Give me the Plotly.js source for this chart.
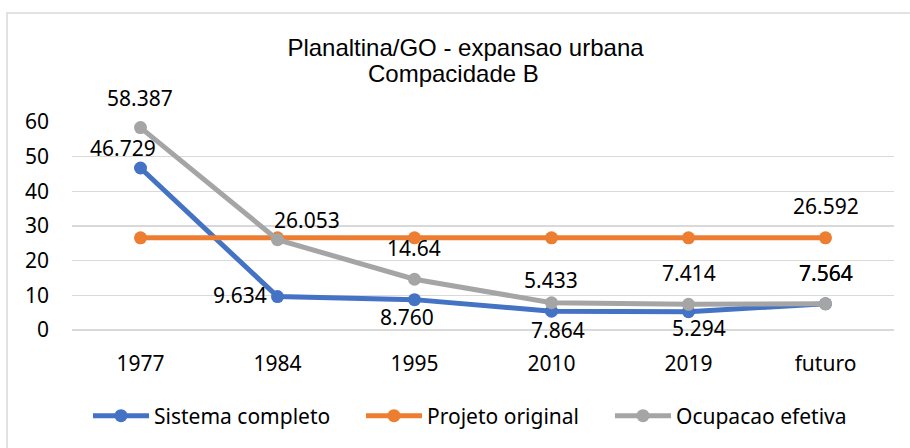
<!DOCTYPE html>
<html><head><meta charset="utf-8">
<script src="https://cdn.plot.ly/plotly-3.0.1.min.js"></script>
<style>html,body{margin:0;padding:0;background:#fff}#chart{width:910px;height:448px}</style>
</head><body><div id="chart"></div>
<script>
// ---- data ----
const categories = ["1977", "1984", "1995", "2010", "2019", "futuro"];
const sistemaCompleto = [46.729, 9.634, 8.760, 5.433, 5.294, 7.564];
const projetoOriginal = [26.592, 26.592, 26.592, 26.592, 26.592, 26.592];
const ocupacaoEfetiva = [58.387, 26.053, 14.64, 7.864, 7.414, 7.564];
const sistemaLabels = ["46.729", "9.634", "8.760", "7.864", "5.294", "7.564"];
const projetoLabels = ["", "", "", "", "", "26.592"];
const ocupacaoLabels = ["58.387", "26.053", "14.64", "5.433", "7.414", "7.564"];
const yTicks = [0, 10, 20, 30, 40, 50, 60];
const seriesNames = ["Sistema completo", "Projeto original", "Ocupacao efetiva"];
const titleLine1 = "Planaltina/GO - expansao urbana";
const titleLine2 = "Compacidade B";

// ---- styling ----
const colors = ["#4472C4", "#ED7D31", "#A5A5A5"];
const labelShift = {
  sistema: [[-18, 20], [-38, 2], [-8, -17], [6, -19], [10, -16], [0, 31]],
  projeto: [[0, 0], [0, 0], [0, 0], [0, 0], [0, 0], [0, 32]],
  ocupacao: [[-1, 30], [29, 20], [-1, 31], [-1, 23], [0, 31], [0, 31]]
};
const font = "'Noto Sans', 'Open Sans', sans-serif";
const titleFont = "'Liberation Sans', Arial, sans-serif";
const plotL = 72, plotW = 822, plotB = 330, plotH = 208;
const px2x = p => (p - plotL) / plotW;
const py2y = p => (plotB - p) / plotH;

function trace(name, y, color, legendId) {
  return {
    type: "scatter", mode: "lines+markers", name: name,
    x: categories, y: y, cliponaxis: false,
    line: {color: color, width: 5},
    marker: {color: color, size: 13},
    legend: legendId, hoverinfo: "skip"
  };
}
const data = [
  trace(seriesNames[0], sistemaCompleto, colors[0], "legend"),
  trace(seriesNames[1], projetoOriginal, colors[1], "legend2"),
  trace(seriesNames[2], ocupacaoEfetiva, colors[2], "legend3")
];

const annotations = [];
function addLabels(values, labels, shifts) {
  values.forEach((v, i) => {
    if (!labels[i]) return;
    annotations.push({
      x: i, y: v, xref: "x", yref: "y", text: labels[i],
      showarrow: false, xanchor: "center", yanchor: "middle",
      xshift: shifts[i][0], yshift: shifts[i][1],
      font: {family: font, size: 21, color: "#000"}
    });
  });
}
addLabels(sistemaCompleto, sistemaLabels, labelShift.sistema);
addLabels(projetoOriginal, projetoLabels, labelShift.projeto);
addLabels(ocupacaoEfetiva, ocupacaoLabels, labelShift.ocupacao);

annotations.push({
  x: px2x(453), y: py2y(74), xref: "paper", yref: "paper", text: titleLine2,
  showarrow: false, xanchor: "center", yanchor: "middle",
  font: {family: titleFont, size: 24, color: "#000"}
});

function legendAt(pxLeft) {
  return {
    x: px2x(pxLeft), xref: "paper", xanchor: "left",
    y: py2y(416), yref: "paper", yanchor: "middle",
    orientation: "h", bgcolor: "rgba(0,0,0,0)", borderwidth: 0,
    font: {family: font, size: 21, color: "#000"}, itemwidth: 56
  };
}

const layout = {
  width: 910, height: 448,
  margin: {l: plotL, r: 910 - plotL - plotW, t: 122, b: 448 - plotB},
  paper_bgcolor: "#fff", plot_bgcolor: "#fff",
  title: {
    text: titleLine1, x: 465.5 / 910, xanchor: "center", xref: "container",
    y: 1 - 48 / 448, yanchor: "middle", yref: "container",
    font: {family: titleFont, size: 24, color: "#000"}
  },
  xaxis: {
    type: "category", range: [-0.5, 5.5], showgrid: false, zeroline: false,
    showline: false, ticks: "", ticklabelstandoff: 19,
    tickfont: {family: font, size: 21, color: "#000"}
  },
  yaxis: {
    range: [0, 60], tickvals: yTicks, showgrid: true, gridcolor: "#d9d9d9",
    gridwidth: 1.5, zeroline: true, zerolinecolor: "#d9d9d9", zerolinewidth: 1.5,
    showline: false, ticks: "", ticklabelstandoff: 22,
    tickfont: {family: font, size: 21, color: "#000"}
  },
  showlegend: true,
  legend: legendAt(88),
  legend2: legendAt(361),
  legend3: legendAt(610),
  annotations: annotations,
  shapes: [{
    type: "rect", xref: "paper", yref: "paper", layer: "below",
    x0: px2x(7), x1: px2x(915), y0: py2y(455), y1: py2y(13),
    line: {color: "#d9d9d9", width: 1.5}
  }]
};

Plotly.newPlot("chart", data, layout, {displayModeBar: false, staticPlot: true});
</script></body></html>
